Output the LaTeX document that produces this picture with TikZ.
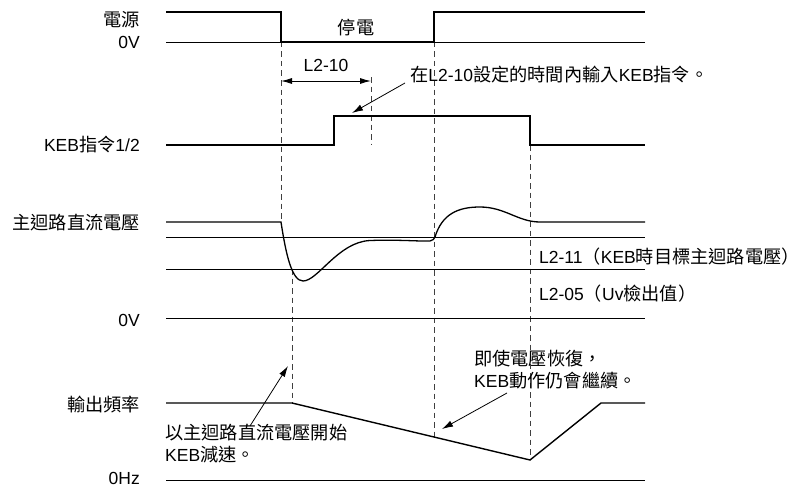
\documentclass[tikz,border=0pt]{standalone}
\usepackage{fontspec}
\setmainfont{Liberation Sans}
\newfontfamily\zh[Scale=1.04]{Noto Sans CJK TC}
\usetikzlibrary{arrows.meta}
\begin{document}
\begin{tikzpicture}[x=1pt,y=-1pt,
  sig/.style={line width=1.4pt,line join=miter},
  ref/.style={line width=0.9pt},
  dsh/.style={line width=1pt,draw=black!75,dash pattern=on 5.5pt off 4pt},
  lbl/.style={inner sep=0pt,font=\fontsize{17.5}{22}\selectfont},
  lab/.style={lbl,anchor=east},
  note/.style={lbl,anchor=west,align=left},
  pt/.style={-{Latex[length=11pt,width=6.5pt]},line width=0.8pt},
  dpt/.style={{Latex[length=11pt,width=6pt]}-{Latex[length=11pt,width=6pt]},line width=0.9pt}]
\useasboundingbox (0,0) rectangle (800,487);
\fill[white] (0,0) rectangle (800,487);

% ---- labels on the left
\node[lab] (src) at (140,20) {\zh 電源};
\node[lab] (v0a) at (140,42) {0V};
\node[lab] (keb) at (140,145) {KEB{\zh 指令}1/2};
\node[lab] (dcv) at (140,223) {\zh 主迴路直流電壓};
\node[lab] (v0b) at (140,320) {0V};
\node[lab] (fout) at (140,405) {\zh 輸出頻率};
\node[lab] (hz0) at (140,478) {0Hz};

% ---- dashed guide lines
\draw[dsh] (281,42) -- (281,222);
\draw[dsh] (292,269) -- (292,403);
\draw[dsh] (434,42) -- (434,437);
\draw[dsh] (371,77) -- (371,145);
\draw[dsh] (530,145) -- (530,460);

% ---- power supply
\draw[ref] (166,42) -- (645,42);
\draw[sig] (166,12) -- (281,12) -- (281,42) -- (434,42) -- (434,12) -- (645,12);
\node[lbl] (off) at (356,28) {\zh 停電};

% ---- L2-10 interval
\coordinate (l10a) at (281,81);
\coordinate (l10b) at (371,81);
\draw[dpt] (l10a) -- (l10b);
\node[lbl] (l210) at (326,65) {L2-10};
\node[note] (n1) at (410,75) {{\zh 在}L2-10{\zh 設定的時間內輸入}KEB{\zh 指令。}};
\coordinate (n1t) at (405,83);
\coordinate (n1h) at (352,113);
\draw[pt] (n1t) -- (n1h);

% ---- KEB command
\draw[sig] (166,145) -- (334,145) -- (334,116) -- (530,116) -- (530,145) -- (645,145);

% ---- DC bus voltage
\draw[ref] (166,237) -- (645,237);
\draw[ref] (166,269) -- (645,269);
\draw[ref] (166,318) -- (645,318);
\draw[sig,line width=1.3pt] (166,222) -- (281,222)
  .. controls (286,255) and (292,281) .. (303,281)
  .. controls (318,281) and (338,242) .. (370,240.5)
  .. controls (400,239.5) and (420,241.5) .. (430,241)
  .. controls (433,240.5) and (434,239) .. (435,237)
  .. controls (442,214) and (458,207) .. (480,207)
  .. controls (505,207) and (518,222) .. (540,222)
  -- (645,222);
\node[note] (l211) at (539,257) {L2-11{\zh （}KEB{\zh 時目標主迴路電壓）}};
\node[note] (l205) at (539,294) {L2-05{\zh （}Uv{\zh 檢出值）}};

% ---- output frequency
\draw[ref] (166,480) -- (645,480);
\draw[sig] (166,403) -- (292,403) -- (530,460) -- (601,403) -- (645,403);
\node[note] (n2) at (165,444) {{\zh 以主迴路直流電壓開始}\\KEB{\zh 減速。}};
\coordinate (n2t) at (250,426);
\coordinate (n2h) at (288,366);
\draw[pt] (n2t) -- (n2h);
\node[note] (n3) at (474,370) {{\zh 即使電壓恢復，}\\KEB{\zh 動作仍會繼續。}};
\coordinate (n3t) at (507,393);
\coordinate (n3h) at (442,429);
\draw[pt] (n3t) -- (n3h);
\end{tikzpicture}
\end{document}
